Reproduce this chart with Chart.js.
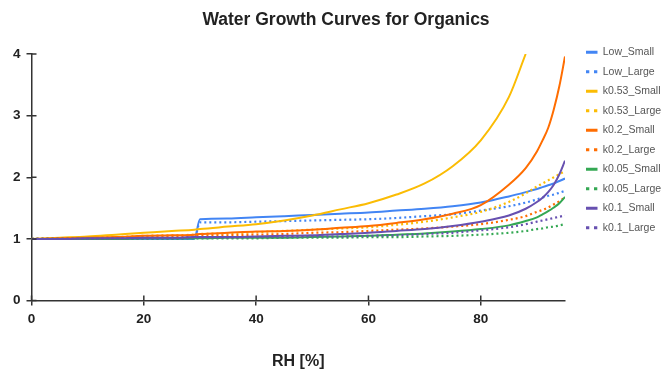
<!DOCTYPE html>
<html>
<head>
<meta charset="utf-8">
<title>Water Growth Curves for Organics</title>
<script src="https://cdn.jsdelivr.net/npm/chart.js@4.4.0/dist/chart.umd.min.js"></script>
<style>
  html, body { margin: 0; padding: 0; background: #fff; }
  #wrap { width: 663px; height: 371px; }
</style>
</head>
<body>
<div id="wrap"><canvas id="growth"></canvas></div>
<script>
// relative humidity (%) where the growth factors were sampled
const rh = [0, 5, 10, 15, 20, 25, 29, 30, 35, 40, 45, 50, 55, 60, 65, 70, 75, 80, 85, 88, 90, 91, 92, 93, 94, 95];

const lowSmall  = [1.00, 1.00, 1.00, 1.00, 1.00, 1.00, 1.00, 1.32, 1.33, 1.35, 1.37, 1.39, 1.41, 1.43, 1.46, 1.49, 1.53, 1.59, 1.69, 1.76, 1.81, 1.84, 1.87, 1.90, 1.94, 1.98];
const lowLarge  = [1.00, 1.00, 1.00, 1.00, 1.00, 1.00, 1.00, 1.27, 1.27, 1.28, 1.29, 1.30, 1.31, 1.32, 1.34, 1.37, 1.40, 1.46, 1.53, 1.59, 1.64, 1.67, 1.70, 1.72, 1.75, 1.78];
const k053Small = [1.00, 1.02, 1.04, 1.07, 1.10, 1.13, 1.15, 1.16, 1.20, 1.24, 1.30, 1.38, 1.48, 1.58, 1.72, 1.90, 2.18, 2.60, 3.30, 4.00, null, null, null, null, null, null];
const k053Large = [1.00, 1.01, 1.02, 1.03, 1.05, 1.06, 1.07, 1.08, 1.09, 1.11, 1.13, 1.15, 1.17, 1.19, 1.23, 1.28, 1.35, 1.44, 1.60, 1.74, 1.85, 1.90, 1.95, 2.00, 2.05, 2.10];
const k02Small  = [1.00, 1.01, 1.02, 1.03, 1.05, 1.06, 1.07, 1.08, 1.10, 1.12, 1.13, 1.15, 1.18, 1.21, 1.26, 1.32, 1.41, 1.55, 1.88, 2.15, 2.42, 2.60, 2.80, 3.10, 3.48, 3.96];
const k02Large  = [1.00, 1.00, 1.01, 1.02, 1.03, 1.03, 1.04, 1.05, 1.06, 1.07, 1.08, 1.10, 1.11, 1.13, 1.15, 1.17, 1.20, 1.24, 1.31, 1.37, 1.44, 1.47, 1.51, 1.56, 1.61, 1.68];
const k005Small = [1.00, 1.00, 1.00, 1.00, 1.01, 1.01, 1.01, 1.01, 1.02, 1.02, 1.02, 1.03, 1.04, 1.05, 1.07, 1.09, 1.12, 1.16, 1.22, 1.29, 1.35, 1.40, 1.45, 1.51, 1.58, 1.68];
const k005Large = [1.00, 1.00, 1.00, 1.00, 1.00, 1.00, 1.01, 1.01, 1.01, 1.01, 1.02, 1.02, 1.02, 1.03, 1.03, 1.04, 1.05, 1.07, 1.10, 1.13, 1.16, 1.17, 1.19, 1.20, 1.22, 1.24];
const k01Small  = [1.00, 1.00, 1.01, 1.01, 1.02, 1.02, 1.03, 1.03, 1.03, 1.04, 1.05, 1.06, 1.08, 1.10, 1.13, 1.16, 1.21, 1.28, 1.38, 1.49, 1.60, 1.67, 1.76, 1.88, 2.05, 2.27];
const k01Large  = [1.00, 1.00, 1.00, 1.01, 1.01, 1.01, 1.02, 1.02, 1.02, 1.03, 1.03, 1.04, 1.04, 1.05, 1.06, 1.08, 1.10, 1.14, 1.19, 1.24, 1.28, 1.30, 1.32, 1.34, 1.36, 1.38];

const seriesNames = ['Low_Small', 'Low_Large', 'k0.53_Small', 'k0.53_Large', 'k0.2_Small',
                     'k0.2_Large', 'k0.05_Small', 'k0.05_Large', 'k0.1_Small', 'k0.1_Large'];
const seriesValues = [lowSmall, lowLarge, k053Small, k053Large, k02Small,
                      k02Large, k005Small, k005Large, k01Small, k01Large];
const seriesColors = ['#4285f4', '#4285f4', '#fbbc04', '#fbbc04', '#ff6d01',
                      '#ff6d01', '#34a853', '#34a853', '#6750b0', '#6750b0'];

const yTicks = [0, 1, 2, 3, 4];
const xTicks = [0, 20, 40, 60, 80];

Chart.defaults.font.family = '"Liberation Sans", Arial, sans-serif';

const datasets = seriesNames.map((name, i) => {
  const dotted = name.endsWith('_Large');
  return {
    label: name,
    data: rh.map((x, j) => ({ x: x, y: seriesValues[i][j] })),
    borderColor: seriesColors[i],
    backgroundColor: seriesColors[i],
    borderWidth: dotted ? 2.2 : 2,
    borderDash: dotted ? [2, 3] : [],
    pointRadius: 0,
    cubicInterpolationMode: 'monotone',
    spanGaps: false,
    order: seriesNames.length - i
  };
});

// chart title, centred over the plot + legend block
const titlePlugin = {
  id: 'growthTitle',
  afterDraw(chart) {
    const ctx = chart.ctx;
    ctx.save();
    ctx.font = 'bold 17.5px "Liberation Sans", Arial, sans-serif';
    ctx.fillStyle = '#222';
    ctx.textAlign = 'center';
    ctx.textBaseline = 'middle';
    ctx.fillText('Water Growth Curves for Organics', 346, 20);
    ctx.restore();
  }
};

// leave a wider gap between the plot and the legend column
const legendGap = {
  id: 'legendGap',
  afterLayout(chart) {
    if (chart.legend) {
      chart.legend.left += 12;
      chart.legend.right += 12;
    }
  }
};

// the tick marks cross the axis lines, so add the inner half
const innerTicks = {
  id: 'innerTicks',
  afterDraw(chart) {
    const { ctx, chartArea, scales } = chart;
    ctx.save();
    ctx.strokeStyle = '#333';
    ctx.lineWidth = 1.5;
    ctx.beginPath();
    scales.x.ticks.forEach(t => {
      const px = scales.x.getPixelForValue(t.value);
      ctx.moveTo(px, chartArea.bottom);
      ctx.lineTo(px, chartArea.bottom - 5);
    });
    scales.y.ticks.forEach(t => {
      const py = scales.y.getPixelForValue(t.value);
      ctx.moveTo(chartArea.left, py);
      ctx.lineTo(chartArea.left + 5, py);
    });
    ctx.stroke();
    ctx.restore();
  }
};

new Chart(document.getElementById('growth'), {
  type: 'line',
  data: { datasets: datasets },
  options: {
    responsive: true,
    maintainAspectRatio: false,
    animation: false,
    layout: { padding: { top: 38, left: 7, right: 0, bottom: 0 } },
    plugins: {
      title: { display: false },
      tooltip: { enabled: false },
      legend: {
        position: 'right',
        align: 'start',
        labels: {
          usePointStyle: true,
          pointStyleWidth: 11.5,
          boxHeight: 10,
          padding: 9,
          color: '#555',
          font: { size: 10.5 },
          generateLabels(chart) {
            return chart.data.datasets.map((ds, i) => ({
              text: ds.label,
              datasetIndex: i,
              pointStyle: 'line',
              strokeStyle: ds.borderColor,
              fillStyle: ds.borderColor,
              fontColor: '#555',
              lineWidth: 3,
              lineDash: ds.borderDash.length ? [3.3, 4.7] : [],
              hidden: !chart.isDatasetVisible(i)
            }));
          }
        }
      }
    },
    scales: {
      x: {
        type: 'linear',
        min: 0,
        max: 95,
        afterBuildTicks(scale) { scale.ticks = xTicks.map(v => ({ value: v })); },
        afterFit(scale) { scale.paddingRight = 98; },
        grid: { drawOnChartArea: false, tickLength: 5, color: '#333', lineWidth: 1.5 },
        border: { color: '#333', width: 1.5 },
        ticks: { padding: 6, color: '#222', font: { size: 13.5, weight: 'bold' } },
        title: {
          display: true,
          text: 'RH [%]',
          color: '#222',
          font: { size: 16, weight: 'bold' },
          padding: { top: 18, bottom: 0 }
        }
      },
      y: {
        min: 0,
        max: 4,
        afterBuildTicks(scale) { scale.ticks = yTicks.map(v => ({ value: v })); },
        afterFit(scale) { scale.paddingTop = 54; },
        grid: { drawOnChartArea: false, tickLength: 5, color: '#333', lineWidth: 1.5 },
        border: { color: '#333', width: 1.5 },
        ticks: { padding: 6, color: '#222', font: { size: 13.5, weight: 'bold' } }
      }
    }
  },
  plugins: [titlePlugin, legendGap, innerTicks]
});
</script>
</body>
</html>
